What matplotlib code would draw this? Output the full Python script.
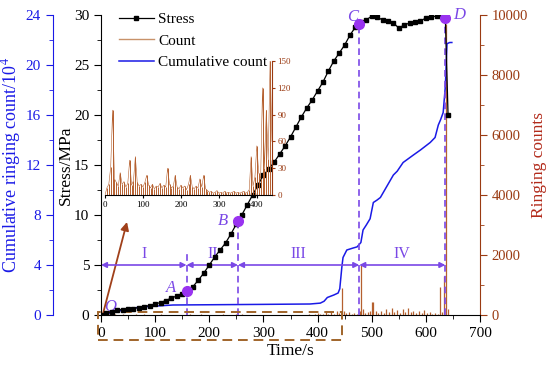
import numpy as np
import matplotlib
matplotlib.use('Agg')
import matplotlib.pyplot as plt
from matplotlib.patches import Rectangle
from matplotlib.ticker import MultipleLocator
from matplotlib.lines import Line2D

plt.rcParams['font.family'] = ['Liberation Serif', 'DejaVu Serif']
plt.rcParams['mathtext.fontset'] = 'stix'

# ---------------- data ----------------
stress_t = [0, 10, 20, 30, 40, 50, 60, 70, 80, 90, 100, 110, 120, 130, 140, 150, 160, 170,
            180, 190, 200, 210, 220, 230, 240, 250, 260, 270, 280, 290, 300, 310, 320, 330,
            340, 350, 360, 370, 380, 390, 400, 410, 420, 430, 440, 450, 460, 470, 480, 490,
            500, 510, 520, 530, 540, 550, 560, 570, 580, 590, 600, 610, 620, 630, 636, 641]
stress_v = [0.0, 0.2, 0.35, 0.5, 0.55, 0.6, 0.65, 0.75, 0.85, 0.95, 1.1, 1.25, 1.45, 1.7, 1.9,
            2.15, 2.45, 2.85, 3.5, 4.2, 5.0, 5.8, 6.5, 7.2, 8.1, 9.1, 10.0, 11.0, 12.0, 13.0,
            14.0, 14.6, 15.3, 16.1, 16.9, 17.8, 18.8, 19.8, 20.7, 21.5, 22.4, 23.3, 24.4, 25.4,
            26.2, 27.0, 28.0, 28.8, 29.3, 29.5, 29.9, 29.8, 29.5, 29.4, 29.2, 28.7, 29.0, 29.2,
            29.3, 29.4, 29.7, 29.8, 29.9, 29.8, 29.7, 20.0]

cum_t = [0, 17, 41, 72, 103, 133, 200, 300, 386, 405, 412, 418, 430, 438, 441, 443, 445, 447,
         454, 465, 473, 480, 484, 490, 497, 503, 510, 516, 528, 540, 547, 558, 577, 590, 608,
         617, 623, 627, 632, 636, 639, 644, 648]
cum_v = [0, 0.16, 0.4, 0.64, 0.72, 0.8, 0.82, 0.85, 0.88, 0.95, 1.1, 1.4, 1.6, 1.76, 2.1, 3.0,
         3.9, 4.6, 5.2, 5.35, 5.45, 5.8, 6.8, 7.2, 7.7, 9.0, 9.2, 9.4, 10.3, 11.2, 11.5, 12.2,
         12.8, 13.2, 13.8, 14.2, 15.2, 15.6, 16.2, 18.3, 21.7, 21.8, 21.8]

count_t_early = list(range(0, 445, 5))
count_v_early = [0, 8, 12, 31, 95, 18, 14, 10, 25, 12, 15, 9, 13, 39, 11, 16, 43, 14, 10, 12,
                 9, 14, 22, 11, 8, 12, 7, 10, 9, 13, 8, 11, 9, 30, 12, 8, 10, 22, 9, 7,
                 11, 8, 10, 6, 12, 22, 9, 7, 10, 8, 18, 9, 22, 7, 5, 3, 4, 2, 3, 5,
                 2, 3, 2, 4, 2, 3, 2, 3, 4, 2, 3, 2, 3, 4, 2, 3, 6, 43, 10, 20,
                 55, 25, 18, 120, 30, 95, 40, 150, 60]
count_t_late = [445, 448, 452, 458, 463, 468, 473, 478, 481, 484, 488, 493, 497, 500, 503, 507,
                512, 517, 522, 527, 532, 537, 542, 547, 552, 557, 562, 567, 572, 577, 582, 587,
                592, 597, 602, 607, 612, 617, 622, 627, 630, 634, 637, 640, 644]
count_v_late = [900, 150, 60, 100, 40, 80, 30, 120, 1700, 200, 60, 90, 150, 450, 430, 120,
                60, 150, 80, 200, 100, 230, 90, 180, 70, 200, 110, 250, 90, 150, 60, 130,
                70, 180, 60, 100, 50, 80, 40, 950, 100, 1300, 9700, 200, 0]

key_t = [158, 253, 477, 636]
key_lbl = ['A', 'B', 'C', 'D']
stage_bounds = [0, 158, 253, 477, 636]
stage_lbl = ['I', 'II', 'III', 'IV']

# ---------------- styles ----------------
C_CUM = '#1A1AE6'
C_CNT = '#B5602F'
C_CNT_AX = '#9A3A12'
C_VIO = '#7A48E6'
C_PT = '#9933F0'

W, H = 550, 369
fig = plt.figure(figsize=(5.5, 3.69), dpi=100)
L, R, B, T = 101, 480, 315, 15
ax = fig.add_axes([L / W, 1 - B / H, (R - L) / W, (B - T) / H])
ax_cnt = ax.twinx()
ax_cum = ax.twinx()

# stress
ax.plot(stress_t, stress_v, color='black', lw=0.9, marker='s', ms=2.8, mfc='black', mec='black', zorder=5)
ax.set_xlim(0, 700)
ax.set_ylim(0, 30)
ax.set_zorder(3)
ax.patch.set_visible(False)
for s in ['top', 'right']:
    ax.spines[s].set_visible(False)
ax.xaxis.set_major_locator(MultipleLocator(100))
ax.xaxis.set_minor_locator(MultipleLocator(50))
ax.yaxis.set_major_locator(MultipleLocator(5))
ax.yaxis.set_minor_locator(MultipleLocator(2.5))
ax.tick_params(which='both', direction='out', labelsize=11)
ax.tick_params(which='major', length=5)
ax.tick_params(which='minor', length=3)
ax.set_xlabel('Time/s', fontsize=12.5, labelpad=2)
ax.set_ylabel('Stress/MPa', fontsize=12.5, labelpad=0)

# counts
cnt_t = count_t_early + count_t_late
cnt_v = count_v_early + count_v_late
ax_cnt.vlines(cnt_t, 0, cnt_v, color=C_CNT, lw=0.9)
ax_cnt.set_ylim(0, 10000)
ax_cnt.yaxis.set_major_locator(MultipleLocator(2000))
ax_cnt.yaxis.set_minor_locator(MultipleLocator(1000))
for s in ['top', 'left', 'bottom']:
    ax_cnt.spines[s].set_visible(False)
ax_cnt.spines['right'].set_color(C_CNT_AX)
ax_cnt.tick_params(which='both', direction='out', colors=C_CNT_AX, labelsize=10.5)
ax_cnt.tick_params(which='major', length=5)
ax_cnt.tick_params(which='minor', length=3)
ax_cnt.set_ylabel('Ringing counts', fontsize=12.5, color='#B22A1A', labelpad=2)

# cumulative
ax_cum.plot(cum_t, cum_v, color=C_CUM, lw=1.1)
ax_cum.set_ylim(0, 24)
ax_cum.yaxis.set_major_locator(MultipleLocator(4))
ax_cum.yaxis.set_minor_locator(MultipleLocator(2))
for s in ['top', 'right', 'bottom']:
    ax_cum.spines[s].set_visible(False)
ax_cum.spines['left'].set_visible(True)
ax_cum.spines['left'].set_position(('axes', -0.127))
ax_cum.spines['left'].set_color(C_CUM)
ax_cum.yaxis.set_ticks_position('left')
ax_cum.yaxis.set_label_position('left')
ax_cum.tick_params(which='both', direction='out', colors=C_CUM, labelsize=11)
ax_cum.tick_params(which='major', length=5)
ax_cum.tick_params(which='minor', length=3)
ax_cum.set_ylabel('Cumulative ringing count/10$^4$', fontsize=13, color=C_CUM, labelpad=2)

# stage boundaries, arrows, labels
for t in stage_bounds[1:]:
    top = np.interp(t, stress_t, stress_v)
    if t == stage_bounds[1]:
        top = 6.5
    ax.plot([t, t], [0, top], color=C_VIO, lw=1.2, ls=(0, (4, 2.5)), zorder=4)
for i in range(4):
    x0, x1 = stage_bounds[i], stage_bounds[i + 1]
    ax.annotate('', xy=(x1, 5), xytext=(x0, 5),
                arrowprops=dict(arrowstyle='<|-|>', color=C_VIO, lw=1.2, shrinkA=0, shrinkB=0,
                                mutation_scale=8), zorder=4)
    ax.text((x0 + x1) / 2, 5.35, stage_lbl[i], color=C_VIO, fontsize=11.5, ha='center', va='bottom')

offsets = {'A': (-11, 2), 'B': (-11, 0), 'C': (-5, 5), 'D': (10, 2)}
for t, lb in zip(key_t, key_lbl):
    s = np.interp(t, stress_t, stress_v)
    ax.plot([t], [s], 'o', color=C_PT, ms=7, zorder=6)
    dx, dy = offsets[lb]
    ax.annotate(lb, (t, s), xytext=(dx, dy), textcoords='offset points', color=C_VIO,
                fontsize=12, style='italic', ha='center', va='center', zorder=7)
ax.text(16, 0.8, 'O', color=C_VIO, fontsize=12, style='italic', ha='center', va='center')

# dashed rectangle & arrow to inset
ax.add_patch(Rectangle((-6, -2.5), 451, 2.8, fill=False, ls=(0, (5, 3)), ec='#A0642A', lw=1.4,
                       clip_on=False, zorder=4))
ax.annotate('', xy=(48, 9.3), xytext=(4, 0.2),
            arrowprops=dict(arrowstyle='-|>', color='#A0401A', lw=1.3, mutation_scale=12,
                            shrinkA=0, shrinkB=0))

# legend
handles = [Line2D([], [], color='black', lw=0.9, marker='s', ms=2.8),
           Line2D([], [], color='#C8926A', lw=1.0),
           Line2D([], [], color=C_CUM, lw=1.1)]
fig.legend(handles, ['Stress', 'Count', 'Cumulative count'], loc='upper left',
           bbox_to_anchor=(108 / W, 1 - 2 / H), frameon=False, fontsize=11,
           handlelength=2.3, handletextpad=0.3, labelspacing=0.5, borderpad=0.2)

# inset
iL, iR, iB, iT = 105, 272, 195, 61
ins = fig.add_axes([iL / W, 1 - iB / H, (iR - iL) / W, (iB - iT) / H])
ins.set_zorder(4)
ins.patch.set_visible(False)
ins.vlines(count_t_early, 0, count_v_early, color=C_CNT, lw=0.7)
ins.plot(count_t_early, count_v_early, color=C_CNT, lw=0.4)
ins.set_xlim(0, 440)
ins.set_ylim(0, 150)
ins.spines['left'].set_visible(False)
ins.spines['top'].set_visible(False)
ins.spines['right'].set_color(C_CNT_AX)
ins.yaxis.tick_right()
ins.xaxis.set_major_locator(MultipleLocator(100))
ins.yaxis.set_major_locator(MultipleLocator(30))
ins.tick_params(axis='x', direction='out', length=2.5, labelsize=6.5, pad=1.5)
ins.tick_params(axis='y', direction='out', length=2.5, labelsize=6.5, pad=1.5, colors=C_CNT_AX)

fig.savefig('out.png', dpi=100)
